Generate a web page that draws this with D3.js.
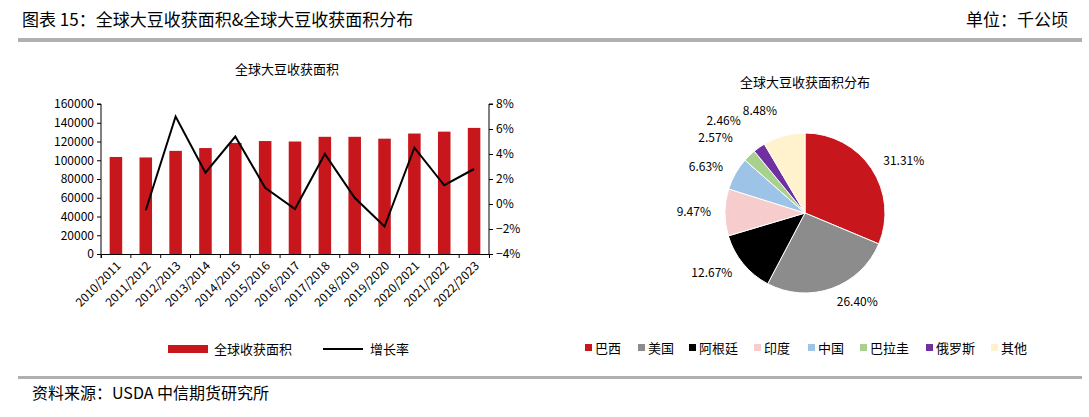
<!DOCTYPE html>
<html><head><meta charset="utf-8">
<script src="https://cdn.jsdelivr.net/npm/d3@7"></script>
<style>body{margin:0;background:#fff;font-family:"Noto Sans CJK SC",sans-serif}</style>
</head><body><svg id="c" width="1089" height="417"></svg>
<script>
// data
var seasons = ["2010/2011","2011/2012","2012/2013","2013/2014","2014/2015","2015/2016","2016/2017","2017/2018","2018/2019","2019/2020","2020/2021","2021/2022","2022/2023"];
var area = [103500,103000,110000,113000,118500,120500,120000,125000,125000,123000,128500,130500,134500];
var growth = [null,-0.5,7.0,2.5,5.4,1.3,-0.4,4.0,0.5,-1.8,4.5,1.5,2.8];
var yTicks = [0,20000,40000,60000,80000,100000,120000,140000,160000];
var pctTicks = [-4,-2,0,2,4,6,8];
var countries = ["巴西","美国","阿根廷","印度","中国","巴拉圭","俄罗斯","其他"];
var shares = [31.31,26.40,12.67,9.47,6.63,2.57,2.46,8.48];
var colors = ["#c8161d","#8c8c8c","#000000","#f6cccc","#9dc3e6","#a9d18e","#7030a0","#fff2cc"];

var svg = d3.select("#c");
var font = "Noto Sans CJK SC";

// header & footer
svg.append("text").attr("x",22).attr("y",26).attr("font-size",17).attr("font-family",font).text("图表 15：全球大豆收获面积&全球大豆收获面积分布");
svg.append("text").attr("x",1068).attr("y",26).attr("text-anchor","end").attr("font-size",17).attr("font-family",font).text("单位：千公顷");
svg.append("rect").attr("x",18).attr("y",38).attr("width",1064).attr("height",4).attr("fill","#b0b0b0");
svg.append("rect").attr("x",18).attr("y",376).attr("width",1064).attr("height",3).attr("fill","#b0b0b0");
svg.append("text").attr("x",32).attr("y",399).attr("font-size",16).attr("font-family",font).text("资料来源：USDA 中信期货研究所");

// left chart
var x = d3.scaleBand().domain(seasons).range([101,489]).paddingInner(0.58).paddingOuter(0.29);
var y = d3.scaleLinear().domain([0,160000]).range([254,104]);
var y2 = d3.scaleLinear().domain([-4,8]).range([254,104]);
svg.append("text").attr("x",287).attr("y",74).attr("text-anchor","middle").attr("font-size",13).attr("font-family",font).text("全球大豆收获面积");

svg.selectAll(".bar").data(area).enter().append("rect")
  .attr("x",(d,i)=>x(seasons[i])).attr("width",x.bandwidth())
  .attr("y",d=>y(d)).attr("height",d=>254-y(d)).attr("fill","#c8161d");

var gl = svg.append("g").attr("transform","translate(101,0)")
  .call(d3.axisLeft(y).tickValues(yTicks).tickSize(4).tickFormat(d3.format("d")));
var gr = svg.append("g").attr("transform","translate(489,0)")
  .call(d3.axisRight(y2).tickValues(pctTicks).tickSize(4).tickFormat(d=>(d<0?"−"+(-d):d)+"%"));
var gb = svg.append("g").attr("transform","translate(0,254)")
  .call(d3.axisBottom(x).tickSize(4));
gb.selectAll(".tick line").attr("transform","translate("+(-x.step()/2)+",0)");
gb.selectAll("text").attr("transform","rotate(-45)").attr("text-anchor","end").attr("dx","-0.4em").attr("dy","0.5em");
[gl,gr,gb].forEach(g=>{g.selectAll("text").attr("font-size",12).attr("font-family",font).attr("fill","#000");
  g.selectAll("line,path").attr("stroke","#000");});
gl.select(".domain").attr("d","M-4,104H0V254");
gr.select(".domain").attr("d","M4,104H0V254");

var line = d3.line().defined(d=>d!=null).x((d,i)=>x(seasons[i])+x.bandwidth()/2).y(d=>y2(d));
svg.append("path").datum(growth).attr("d",line).attr("fill","none").attr("stroke","#000").attr("stroke-width",2);

// left legend
svg.append("rect").attr("x",168).attr("y",345).attr("width",40).attr("height",8).attr("fill","#c8161d");
svg.append("text").attr("x",214).attr("y",354).attr("font-size",13).attr("font-family",font).text("全球收获面积");
svg.append("line").attr("x1",323).attr("x2",363).attr("y1",349).attr("y2",349).attr("stroke","#000").attr("stroke-width",2);
svg.append("text").attr("x",370).attr("y",354).attr("font-size",13).attr("font-family",font).text("增长率");

// pie
svg.append("text").attr("x",805).attr("y",87).attr("text-anchor","middle").attr("font-size",13).attr("font-family",font).text("全球大豆收获面积分布");
var cx = 805, cy = 213, r = 80;
var pie = d3.pie().sort(null)(shares);
var arc = d3.arc().innerRadius(0).outerRadius(r);
var pg = svg.append("g").attr("transform","translate("+cx+","+cy+")");
pg.selectAll("path").data(pie).enter().append("path").attr("d",arc)
  .attr("fill",(d,i)=>colors[i]).attr("stroke","#fff").attr("stroke-width",1);
// extra outward push for the crowded small slices
var push = [14,14,14,14,14,24,32,26];
pg.selectAll("text").data(pie).enter().append("text")
  .attr("transform",(d,i)=>{var a=(d.startAngle+d.endAngle)/2, rr=r+push[i];
    return "translate("+(Math.sin(a)*rr)+","+(-Math.cos(a)*rr)+")";})
  .attr("text-anchor",d=>{var a=(d.startAngle+d.endAngle)/2;return a<Math.PI?"start":(a>2*Math.PI-0.2?"middle":"end");})
  .attr("dy","0.35em").attr("font-size",12).attr("font-family",font)
  .text(d=>d.data.toFixed(2)+"%");

// pie legend
var lx = [585,638,689,754,808,860,926,991];
countries.forEach((c,i)=>{
  svg.append("rect").attr("x",lx[i]).attr("y",344).attr("width",7).attr("height",7).attr("fill",colors[i]);
  svg.append("text").attr("x",lx[i]+10).attr("y",353).attr("font-size",13).attr("font-family",font).text(c);
});
</script></body></html>
